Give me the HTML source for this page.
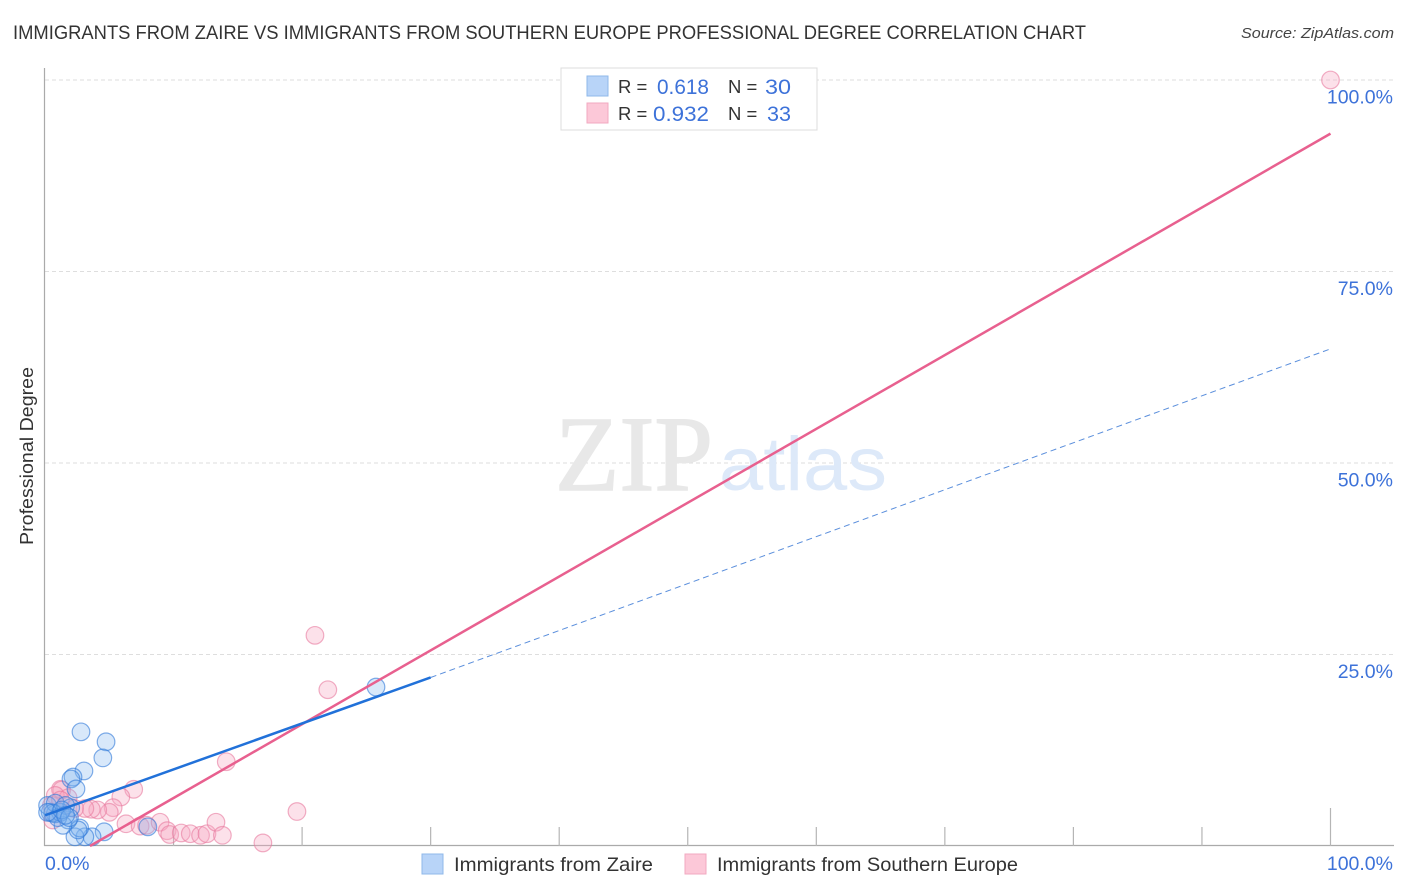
<!DOCTYPE html>
<html>
<head>
<meta charset="utf-8">
<title>Correlation Chart</title>
<style>
html,body{margin:0;padding:0;background:#fff;width:1406px;height:892px;overflow:hidden}
svg{display:block}
text{font-family:"Liberation Sans",sans-serif}
</style>
</head>
<body>
<svg id="chart" width="1406" height="892" viewBox="0 0 1406 892">
  <text x="13" y="39" font-size="19" fill="#333" textLength="1073" lengthAdjust="spacingAndGlyphs">IMMIGRANTS FROM ZAIRE VS IMMIGRANTS FROM SOUTHERN EUROPE PROFESSIONAL DEGREE CORRELATION CHART</text>
  <text x="1241" y="38" font-size="15" font-style="italic" fill="#444" textLength="153" lengthAdjust="spacingAndGlyphs">Source: ZipAtlas.com</text>

  <g id="grid"></g>

  <g>
    <text x="555" y="490" font-size="107" textLength="158" lengthAdjust="spacingAndGlyphs" style="font-family:'Liberation Serif',serif" fill="#e8e8e8" stroke="#e8e8e8" stroke-width="1.5">ZIP</text>
    <text x="719" y="490" font-size="76" textLength="168" lengthAdjust="spacingAndGlyphs" fill="#dde9f9">atlas</text>
  </g>

  <g id="axes"></g>
  <g id="points"></g>
  <g id="lines"></g>
  <g id="labels"></g>

  <text transform="translate(33,456) rotate(-90)" text-anchor="middle" font-size="18.5" fill="#333" textLength="178" lengthAdjust="spacingAndGlyphs">Professional Degree</text>

  <g>
    <rect x="561" y="68" width="256" height="62" fill="#fff" stroke="#dcdcdc" stroke-width="1"/>
    <rect x="587" y="76" width="21" height="20" fill="#b8d4f8" stroke="#8fb8ea" stroke-width="1"/>
    <rect x="587" y="103" width="21" height="20" fill="#fcc8d8" stroke="#f2a9c0" stroke-width="1"/>
    <text x="618" y="93" font-size="18.5" fill="#333">R =</text>
    <text x="657" y="94" font-size="21" fill="#3d72d9" textLength="52" lengthAdjust="spacingAndGlyphs">0.618</text>
    <text x="728" y="93" font-size="18.5" fill="#333">N =</text>
    <text x="765" y="94" font-size="21" fill="#3d72d9" textLength="26" lengthAdjust="spacingAndGlyphs">30</text>
    <text x="618" y="120" font-size="18.5" fill="#333">R =</text>
    <text x="653" y="121" font-size="21" fill="#3d72d9" textLength="56" lengthAdjust="spacingAndGlyphs">0.932</text>
    <text x="728" y="120" font-size="18.5" fill="#333">N =</text>
    <text x="767" y="121" font-size="21" fill="#3d72d9" textLength="24" lengthAdjust="spacingAndGlyphs">33</text>
  </g>

  <g>
    <rect x="422" y="854" width="21" height="20" fill="#b8d4f8" stroke="#8fb8ea" stroke-width="1"/>
    <text x="454" y="871" font-size="19.5" fill="#333" textLength="199" lengthAdjust="spacingAndGlyphs">Immigrants from Zaire</text>
    <rect x="685" y="854" width="21" height="20" fill="#fcc8d8" stroke="#f2a9c0" stroke-width="1"/>
    <text x="717" y="871" font-size="19.5" fill="#333" textLength="301" lengthAdjust="spacingAndGlyphs">Immigrants from Southern Europe</text>
  </g>
</svg>
<script>
// Chart data (percent values)
const yTicks = [25, 50, 75, 100];
const yTickLabels = ["25.0%", "50.0%", "75.0%", "100.0%"];
const xTicks = [0, 10, 20, 30, 40, 50, 60, 70, 80, 90, 100];
const xTickLabels = ["0.0%", "100.0%"];
const zaireX = [2.8, 4.75, 4.5, 3.03, 2.18, 2.02, 2.41, 25.75, 4.6, 3.66, 3.1, 2.33, 2.7, 2.57, 8.0, 1.8, 1.4, 2.0, 0.4, 0.8, 1.2, 0.2, 0.8, 1.6, 0.6, 1.0, 0.2, 1.3, 1.9, 1.6];
const zaireY = [14.9, 13.6, 11.5, 9.8, 9.0, 8.75, 7.45, 20.75, 1.85, 1.2, 1.2, 1.2, 2.35, 2.1, 2.5, 3.4, 2.7, 5.0, 4.4, 4.2, 4.4, 5.3, 5.6, 5.3, 4.3, 3.7, 4.4, 4.7, 3.7, 4.0];
const europeX = [100, 21, 22, 14.1, 19.6, 6.9, 5.9, 5.3, 5.0, 4.1, 3.6, 3.1, 1.2, 1.3, 0.8, 1.8, 0.6, 6.3, 7.4, 7.9, 8.95, 9.5, 9.7, 10.6, 11.3, 12.1, 12.6, 13.3, 13.8, 16.95, 0.5, 1.2, 2.3];
const europeY = [100, 27.5, 20.4, 11.0, 4.5, 7.4, 6.4, 5.0, 4.4, 4.7, 4.8, 4.9, 7.4, 7.3, 6.6, 6.3, 3.4, 2.9, 2.6, 2.7, 3.1, 2.0, 1.5, 1.7, 1.6, 1.4, 1.6, 3.1, 1.4, 0.4, 5.3, 6.0, 4.9];
const zaireTrendX = [0, 30, 100];
const zaireTrendY = [4.0, 22.0, 64.9];
const europeTrendX = [3.5, 100];
const europeTrendY = [0, 93];

const SVGNS = "http://www.w3.org/2000/svg";
const xAt = function (v) { return 45 + v * 12.855; };
const yAt = function (v) { return 846 - v * 7.66; };
function make(tag, attrs, parent) {
  const el = document.createElementNS(SVGNS, tag);
  for (const k in attrs) el.setAttribute(k, attrs[k]);
  parent.appendChild(el);
  return el;
}

const gridG = document.getElementById("grid");
yTicks.forEach(function (t) {
  const g = make("line", {x1: 45, x2: 1394, y1: yAt(t), y2: yAt(t), stroke: "#dedede", "stroke-width": 1, "stroke-dasharray": "4 3"}, gridG);
  
  
});

const axesG = document.getElementById("axes");
const yAxis = make("line", {x1: 44.5, x2: 44.5, y1: 68, y2: 846, stroke: "#aaa", "stroke-width": 1.2}, axesG);


const xAxis = make("line", {x1: 44, x2: 1394, y1: 845.5, y2: 845.5, stroke: "#aaa", "stroke-width": 1.2}, axesG);


xTicks.forEach(function (t) {
  if (t === 0) return;
  const tick = make("line", {x1: xAt(t), x2: xAt(t), y1: t === 100 ? 808 : 827, y2: 846, stroke: "#b5b5b5", "stroke-width": 1.2}, axesG);
  
  
});

const pointsG = document.getElementById("points");
function drawSeries(xs, ys, fill, stroke, fillOpacity, name) {
  xs.forEach(function (x, i) {
    const c = make("circle", {cx: xAt(x), cy: yAt(ys[i]), r: 8.8, fill: fill, "fill-opacity": fillOpacity, stroke: stroke, "stroke-opacity": 0.6, "stroke-width": 1.2}, pointsG);
    
    
  });
}
drawSeries(europeX, europeY, "#f7a8c0", "#e77a9f", 0.34, "point-southern-europe");
drawSeries(zaireX, zaireY, "#7fb2f0", "#2f78d8", 0.3, "point-zaire");

const linesG = document.getElementById("lines");
const dashTrend = make("line", {x1: xAt(zaireTrendX[1]), y1: yAt(zaireTrendY[1]), x2: xAt(zaireTrendX[2]), y2: yAt(zaireTrendY[2]), stroke: "#5b8fdc", "stroke-width": 1, "stroke-dasharray": "6 4"}, linesG);


const euroTrend = make("line", {x1: xAt(europeTrendX[0]), y1: yAt(europeTrendY[0]), x2: xAt(europeTrendX[1]), y2: yAt(europeTrendY[1]), stroke: "#e8608f", "stroke-width": 2.5}, linesG);


const zaireTrend = make("line", {x1: xAt(zaireTrendX[0]), y1: yAt(zaireTrendY[0]), x2: xAt(zaireTrendX[1]), y2: yAt(zaireTrendY[1]), stroke: "#2171d9", "stroke-width": 2.5}, linesG);



const labelsG = document.getElementById("labels");
yTicks.forEach(function (t, i) {
  const l = make("text", {x: 1393, y: yAt(t) + 23.5, "text-anchor": "end", "font-size": 19.5, fill: "#3d72d9"}, labelsG);
  l.textContent = yTickLabels[i];
  
  
});
const xl0 = make("text", {x: 45, y: 870, "font-size": 19.5, fill: "#3d72d9"}, labelsG);
xl0.textContent = xTickLabels[0];


const xl1 = make("text", {x: 1393, y: 870, "text-anchor": "end", "font-size": 19.5, fill: "#3d72d9"}, labelsG);
xl1.textContent = xTickLabels[1];


</script>
</body>
</html>
